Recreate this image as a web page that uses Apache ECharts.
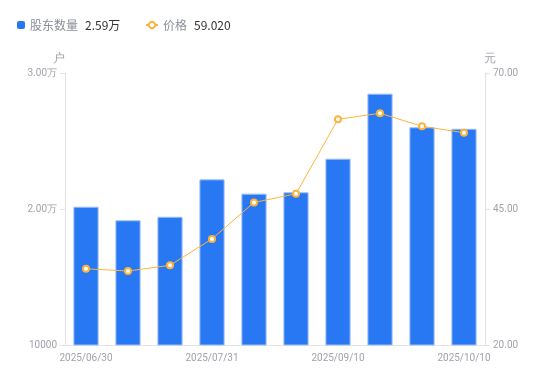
<!DOCTYPE html>
<html><head><meta charset="utf-8">
<script src="https://cdn.jsdelivr.net/npm/echarts@6/dist/echarts.min.js"></script>
<style>html,body{margin:0;padding:0;background:#fff}#c{width:550px;height:381px}</style>
</head><body><div id="c"></div>
<script>
const categories = ['2025/06/30','2025/07/10','2025/07/20','2025/07/31','2025/08/15','2025/08/31','2025/09/10','2025/09/19','2025/09/30','2025/10/10'];
const holders = [20170, 19170, 19430, 22180, 21130, 21230, 23700, 28480, 26010, 25900];
const prices = [34.0, 33.6, 34.65, 39.5, 46.2, 47.8, 61.5, 62.6, 60.2, 59.02];
const leftTicks = {min: 10000, max: 30000, interval: 10000};
const rightTicks = {min: 20, max: 70, interval: 25};

const chart = echarts.init(document.getElementById('c'));
const lastH = holders[holders.length-1];
const lastP = prices[prices.length-1];
const rich = {
  a: {color: '#8a8f99', fontSize: 12, padding: [0, 7, 0, 0], fontFamily: 'Noto Sans CJK SC'},
  b: {color: '#333', fontSize: 12, fontFamily: 'Noto Sans CJK SC'}
};
chart.setOption({
  animation: false,
  legend: [{
    left: 12, top: 14, itemWidth: 8, itemHeight: 8, itemGap: 5,
    data: [{name: '股东数量', icon: 'roundRect', itemStyle: {borderWidth: 0}}],
    formatter: n => '{a|' + n + '}{b|' + (lastH/10000).toFixed(2) + '万}',
    textStyle: {rich}
  }, {
    left: 140, top: 14, itemWidth: 12, itemHeight: 8,
    data: [{name: '价格'}],
    formatter: n => '{a|' + n + '}{b|' + lastP.toFixed(3) + '}',
    textStyle: {rich}
  }],
  grid: {left: 65, right: 65, top: 73, bottom: 36},
  xAxis: {
    type: 'category', data: categories,
    axisLine: {lineStyle: {color: '#e3e3e3'}},
    axisTick: {show: false},
    axisLabel: {color: '#a0a3ab', fontSize: 10, interval: 2, margin: 8, fontFamily: 'Roboto'}
  },
  yAxis: [{
    type: 'value', name: '户', min: leftTicks.min, max: leftTicks.max, interval: leftTicks.interval,
    nameTextStyle: {color: '#a0a3ab', fontSize: 12, padding: [0, 12, 0, 0], align: 'center'},
    nameGap: 8,
    axisLine: {show: true, lineStyle: {color: '#e3e3e3'}},
    axisTick: {show: true, length: 5, lineStyle: {color: '#e3e3e3'}},
    splitLine: {show: false},
    axisLabel: {color: '#a0a3ab', fontSize: 10, margin: 8, fontFamily: 'Roboto',
      formatter: v => v > 10000 ? (v/10000).toFixed(2) + '万' : String(v)}
  }, {
    type: 'value', name: '元', min: rightTicks.min, max: rightTicks.max, interval: rightTicks.interval,
    nameTextStyle: {color: '#a0a3ab', fontSize: 12, padding: [0, 0, 0, 10]},
    nameGap: 8,
    axisLine: {show: true, lineStyle: {color: '#e3e3e3'}},
    axisTick: {show: true, length: 5, lineStyle: {color: '#e3e3e3'}},
    splitLine: {show: false},
    axisLabel: {color: '#a0a3ab', fontSize: 10, margin: 8, fontFamily: 'Roboto',
      formatter: v => v.toFixed(2)}
  }],
  series: [{
    name: '股东数量', type: 'bar', data: holders, barWidth: '60%',
    itemStyle: {color: '#2878F4', borderColor: '#9cc0f8', borderWidth: 1}
  }, {
    name: '价格', type: 'line', yAxisIndex: 1, data: prices,
    symbol: 'emptyCircle', symbolSize: 6,
    lineStyle: {width: 1, color: '#FDB43C'},
    itemStyle: {color: '#FDB43C', borderWidth: 2}
  }]
});
</script></body></html>
